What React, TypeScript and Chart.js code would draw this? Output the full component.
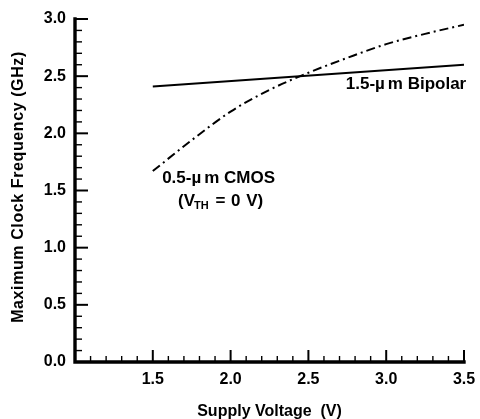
import { useEffect, useRef } from 'react';
import { Chart, registerables } from 'chart.js';

Chart.register(...registerables);

// ---- data ----
const bipolarVoltage = [1.5, 3.5];
const bipolarFreq = [2.41, 2.6];
const cmosVoltage = [1.5, 1.75, 2.0, 2.25, 2.5, 2.75, 3.0, 3.25, 3.5];
const cmosFreq = [1.67, 1.94, 2.19, 2.38, 2.53, 2.66, 2.78, 2.87, 2.95];
const xTickValues = [1.5, 2.0, 2.5, 3.0, 3.5];
const xTickLabels = ['1.5', '2.0', '2.5', '3.0', '3.5'];
const yTickValues = [0, 0.5, 1.0, 1.5, 2.0, 2.5, 3.0];
const yTickLabels = ['0.0', '0.5', '1.0', '1.5', '2.0', '2.5', '3.0'];
const xTitle = 'Supply Voltage  (V)';
const yTitle = 'Maximum Clock Frequency (GHz)';
const bipolarLabelParts = ['1.5-\u00b5', 'm Bipolar'];
const cmosLabelParts = ['0.5-\u00b5', 'm CMOS'];

const FONT = '"Liberation Sans", Arial, Helvetica, sans-serif';

function drawSpaced(ctx: CanvasRenderingContext2D, parts: string[], x: number, y: number, gap: number) {
  let cx = x;
  parts.forEach((p) => {
    ctx.fillText(p, cx, y);
    cx += ctx.measureText(p).width + gap;
  });
}

const axesPlugin = {
  id: 'paperAxes',
  afterDraw(chart: any) {
    const ctx = chart.ctx as CanvasRenderingContext2D;
    const xs = chart.scales.x;
    const ys = chart.scales.y;
    const left = chart.chartArea.left;
    const bottom = chart.chartArea.bottom;
    const top = chart.chartArea.top;
    const right = chart.chartArea.right;
    ctx.save();
    ctx.strokeStyle = '#000';
    ctx.fillStyle = '#000';
    // ticks x
    for (let i = 11; i <= 35; i++) {
      const v = i / 10;
      const px = xs.getPixelForValue(v);
      const major = i % 5 === 0;
      ctx.lineWidth = major ? 2 : 1.4;
      ctx.beginPath();
      ctx.moveTo(px, bottom);
      ctx.lineTo(px, bottom - (major ? 12 : 6));
      ctx.stroke();
    }
    // ticks y
    for (let i = 1; i <= 30; i++) {
      const v = i / 10;
      const py = ys.getPixelForValue(v);
      const major = i % 5 === 0;
      ctx.lineWidth = major ? 2 : 1.4;
      ctx.beginPath();
      ctx.moveTo(left, py);
      ctx.lineTo(left + (major ? 13 : 7), py);
      ctx.stroke();
    }
    // axis lines
    ctx.lineWidth = 3.4;
    ctx.lineCap = 'square';
    ctx.beginPath();
    ctx.moveTo(left, top);
    ctx.lineTo(left, bottom);
    ctx.lineTo(right, bottom);
    ctx.stroke();

    // tick labels
    ctx.font = `bold 16px ${FONT}`;
    ctx.textAlign = 'center';
    ctx.textBaseline = 'middle';
    xTickValues.forEach((v, i) => {
      ctx.fillText(xTickLabels[i], xs.getPixelForValue(v), bottom + 18);
    });
    ctx.textAlign = 'right';
    yTickValues.forEach((v, i) => {
      ctx.fillText(yTickLabels[i], left - 9, ys.getPixelForValue(v));
    });

    // axis titles
    ctx.font = `bold 16px ${FONT}`;
    ctx.textAlign = 'center';
    ctx.textBaseline = 'alphabetic';
    ctx.fillText(xTitle, (left + right) / 2, 416);

    ctx.save();
    ctx.translate(23, 187);
    ctx.rotate(-Math.PI / 2);
    ctx.font = `bold 16px ${FONT}`;
    (ctx as any).letterSpacing = '0.6px';
    ctx.fillText(yTitle, 0, 0);
    ctx.restore();

    // annotations
    ctx.font = `bold 17px ${FONT}`;
    ctx.textAlign = 'left';
    ctx.textBaseline = 'alphabetic';
    drawSpaced(ctx, bipolarLabelParts, xs.getPixelForValue(2.74), ys.getPixelForValue(2.385), 3);
    drawSpaced(ctx, cmosLabelParts, xs.getPixelForValue(1.56), 183, 3);

    // (V_TH = 0 V)
    let x = 178;
    const y2 = 206;
    ctx.font = `bold 17px ${FONT}`;
    ctx.fillText('(V', x, y2);
    x += ctx.measureText('(V').width - 1;
    ctx.font = `bold 11px ${FONT}`;
    ctx.fillText('TH', x, y2 + 3);
    x += ctx.measureText('TH').width + 2;
    ctx.font = `bold 17px ${FONT}`;
    drawSpaced(ctx, [' =', ' 0', ' V)'], x, y2, 1);
    ctx.restore();
  },
};

export default function App() {
  const ref = useRef<HTMLCanvasElement | null>(null);
  useEffect(() => {
    if (!ref.current) return;
    const chart = new Chart(ref.current, {
      type: 'line',
      data: {
        datasets: [
          {
            label: 'Bipolar',
            data: bipolarVoltage.map((v, i) => ({ x: v, y: bipolarFreq[i] })),
            borderColor: '#000',
            borderWidth: 2,
            pointRadius: 0,
            fill: false,
          },
          {
            label: 'CMOS',
            data: cmosVoltage.map((v, i) => ({ x: v, y: cmosFreq[i] })),
            borderColor: '#000',
            borderWidth: 2,
            borderDash: [9, 4, 2, 4],
            pointRadius: 0,
            cubicInterpolationMode: 'monotone',
            fill: false,
          },
        ],
      },
      options: {
        animation: false,
        responsive: true,
        maintainAspectRatio: false,
        layout: { padding: { left: 75, right: 16, top: 19, bottom: 57 } },
        plugins: { legend: { display: false }, tooltip: { enabled: false } },
        scales: {
          x: { type: 'linear', min: 1.0, max: 3.5, display: false },
          y: { type: 'linear', min: 0, max: 3.0, display: false },
        },
      },
      plugins: [axesPlugin],
    } as any);
    return () => chart.destroy();
  }, []);
  return (
    <div style={{ position: 'fixed', left: 0, top: 0, width: 480, height: 419, background: '#fff' }}>
      <canvas ref={ref} />
    </div>
  );
}
